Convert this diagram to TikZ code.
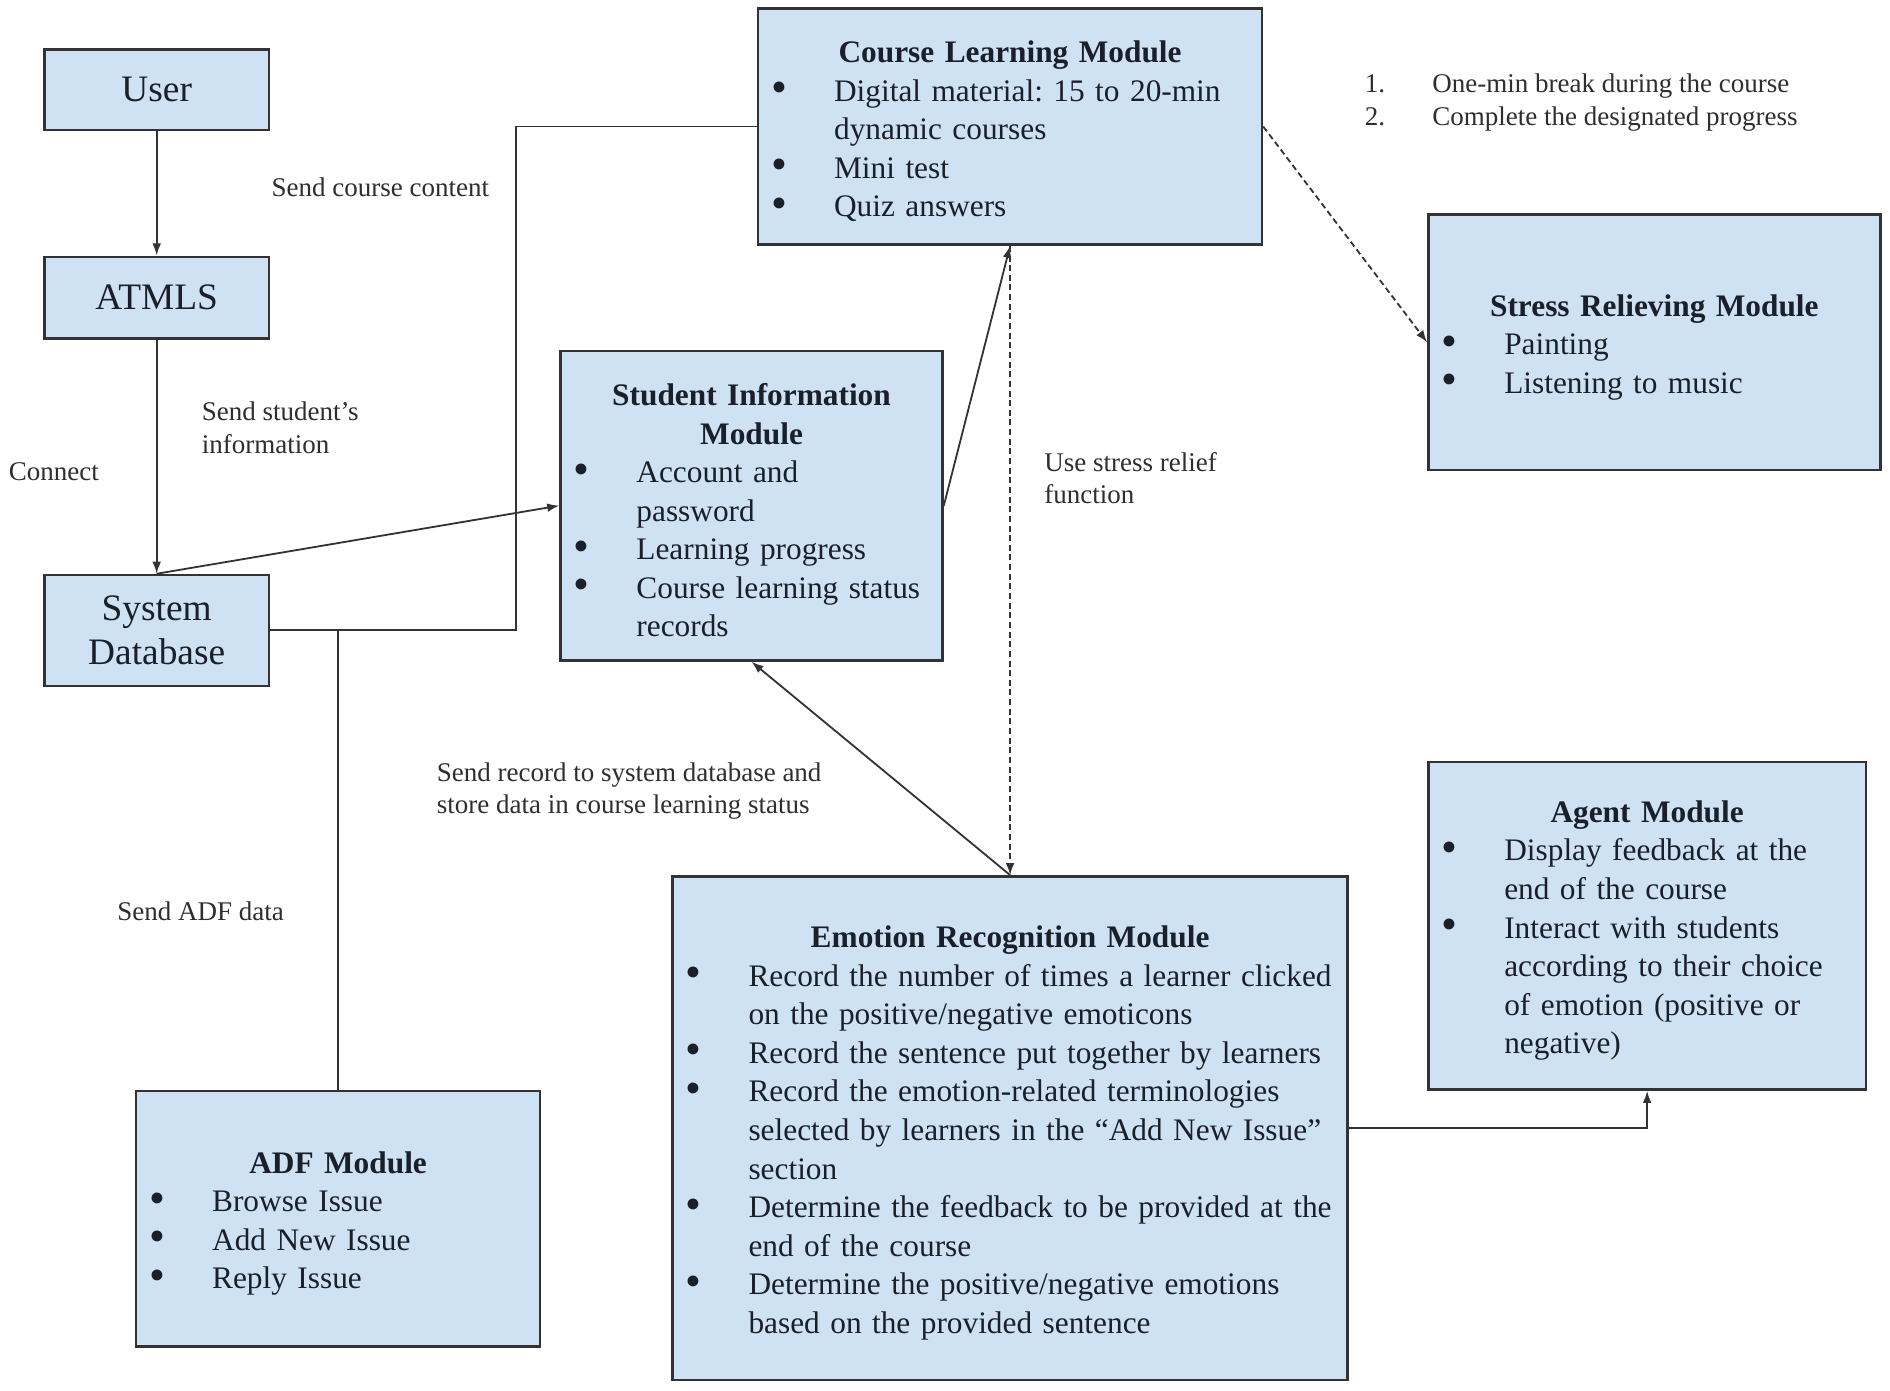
\documentclass[tikz,border=0pt]{standalone}
\usepackage{fontspec}
\setmainfont{Liberation Serif}
\usetikzlibrary{calc,arrows.meta}
\setlength{\parindent}{0pt}
\frenchspacing
\definecolor{boxblue}{HTML}{CFE2F3}
\definecolor{edgegray}{HTML}{333333}
\definecolor{textdark}{HTML}{1A1F2A}
\definecolor{textgray}{HTML}{2E2E2E}
\tikzset{font=\fontsize{13}{16}\selectfont}
\newcommand{\ttl}[1]{\makebox[\hsize][c]{\bfseries #1}}
\newcommand{\bul}[1]{\hspace*{5.5pt}\makebox[26pt][l]{\smash{\raisebox{-0.6pt}{\scalebox{1.45}{\textbullet}}}}\mbox{#1}}
\newcommand{\cnt}[1]{\hspace*{31.5pt}\mbox{#1}}
\newcommand{\num}[2]{\makebox[28pt][l]{#1}\mbox{#2}}

\begin{document}
\begin{tikzpicture}[x=0.5pt, y=-0.5pt, >={Latex[length=5pt,width=3.6pt]}]
	\useasboundingbox (0,0) rectangle (1568,1154);
	\begin{scope}
		\tikzstyle{modbox}=[draw=edgegray, line width=1pt, fill=boxblue, inner sep=0pt, align=left, text=textdark, execute at begin node={\rule{0pt}{13pt}}]
		\tikzstyle{unitbox}=[draw=edgegray, line width=1pt, fill=boxblue, inner sep=0pt, align=center, text=textdark, minimum width=93pt, font=\fontsize{15.5}{18}\selectfont]
		\tikzstyle{note}=[inner sep=0pt, align=left, text=textgray, font=\fontsize{11.2}{13.5}\selectfont]
		\tikzstyle{link}=[draw=edgegray, line width=0.75pt]

		% left column
		\node[unitbox, minimum height=33.5pt] (user)  at (130, 74.5) {User};
		\node[unitbox, minimum height=34pt  ] (atmls) at (130, 247)  {ATMLS};
		\node[unitbox, minimum height=46pt  ] (sysdb) at (130, 523)  {System\\Database};

		% modules
		\node[modbox, minimum width=209pt, minimum height=98pt, text width=209pt] (clm) at (838, 105) {%
			\ttl{Course Learning Module}\\
			\bul{Digital material: 15 to 20-min}\\
			\cnt{dynamic courses}\\
			\bul{Mini test}\\
			\bul{Quiz answers}};
		\node[modbox, minimum width=187.5pt, minimum height=106pt, text width=187.5pt] (srm) at (1372.5, 284) {%
			\ttl{Stress Relieving Module}\\
			\bul{Painting}\\
			\bul{Listening to music}};
		\node[modbox, minimum width=158.5pt, minimum height=128.5pt, text width=158.5pt] (sim) at (623.5, 419.5) {%
			\ttl{Student Information}\\
			\ttl{Module}\\
			\bul{Account and}\\
			\cnt{password}\\
			\bul{Learning progress}\\
			\bul{Course learning status}\\
			\cnt{records}};
		\node[modbox, minimum width=280pt, minimum height=209pt, text width=280pt] (erm) at (838, 936) {%
			\ttl{Emotion Recognition Module}\\
			\bul{Record the number of times a learner clicked}\\
			\cnt{on the positive/negative emoticons}\\
			\bul{Record the sentence put together by learners}\\
			\bul{Record the emotion-related terminologies}\\
			\cnt{selected by learners in the “Add New Issue”}\\
			\cnt{section}\\
			\bul{Determine the feedback to be provided at the}\\
			\cnt{end of the course}\\
			\bul{Determine the positive/negative emotions}\\
			\cnt{based on the provided sentence}};
		\node[modbox, minimum width=181.5pt, minimum height=136pt, text width=181.5pt] (agent) at (1366.5, 768) {%
			\ttl{Agent Module}\\
			\bul{Display feedback at the}\\
			\cnt{end of the course}\\
			\bul{Interact with students}\\
			\cnt{according to their choice}\\
			\cnt{of emotion (positive or}\\
			\cnt{negative)}};
		\node[modbox, minimum width=167.5pt, minimum height=106pt, text width=167.5pt] (adf) at (280.5, 1011) {%
			\ttl{ADF Module}\\
			\bul{Browse Issue}\\
			\bul{Add New Issue}\\
			\bul{Reply Issue}};

		% labels (base = last line)
		\node[note, anchor=base west] (lcontent) at (225, 163) {Send course content};
		\node[note, anchor=base west] (lstudent) at (167, 376) {Send student’s\\information};
		\node[note, anchor=base west] (lconnect) at (7, 399)   {Connect};
		\node[note, anchor=base west] (ladf)     at (97, 764)  {Send ADF data};
		\node[note, anchor=base west] (lrecord)  at (362, 675) {Send record to system database and\\store data in course learning status};
		\node[note, anchor=base west] (lrelief)  at (866, 418) {Use stress relief\\function};
		\node[note, anchor=base west] (lbreak)   at (1132, 104) {\num{1.}{One-min break during the course}\\\num{2.}{Complete the designated progress}};

		\draw[link, ->                                   ](user) -- (atmls);
		\draw[link, ->                                   ](atmls) -- (sysdb);
		\draw[link, ->                                   ](sysdb.north) -- (sim.west);
		\draw[link                                       ](sysdb.east) -- ++(204,0) |- (clm.west);
		\draw[link                                       ](adf.north) -- (adf.north |- sysdb.east);
		\draw[link, ->                                   ](sim.east) -- (clm.south);
		\draw[link, ->, dash pattern=on 2.5pt off 1.5pt  ](clm.south) -- (erm.north);
		\draw[link, ->                                   ](erm.north) -- (sim.south);
		\draw[link, ->, dash pattern=on 2.5pt off 1.5pt  ](clm.east) -- (srm.west);
		\draw[link, ->                                   ](erm.east) -| (agent.south);
	\end{scope}
\end{tikzpicture}
\end{document}
